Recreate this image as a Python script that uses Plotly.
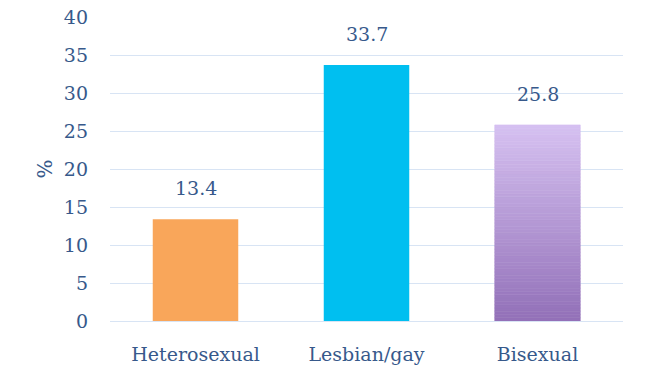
import plotly.graph_objects as go

categories = ["Heterosexual", "Lesbian/gay", "Bisexual"]
values = [13.4, 33.7, 25.8]
labels = ["13.4", "33.7", "25.8"]
colors = ["#F9A65A", "#00BFF0", None]

# gradient for Bisexual bar (top light lavender -> bottom purple)
top_rgb = (214, 193, 241)
bot_rgb = (146, 112, 184)
n_steps = 60

FONT = "DejaVu Serif"
TXT = "#37598B"
GRID = "#D8E4F4"

fig = go.Figure()

fig.add_trace(go.Bar(
    x=categories[:2], y=values[:2],
    marker=dict(color=colors[:2], line=dict(width=0)),
    width=0.5, hoverinfo="x+y", showlegend=False,
))

v = values[2]
bases = [v * i / n_steps for i in range(n_steps)]
heights = [v / n_steps] * n_steps
seg_colors = []
for i in range(n_steps):
    t = (i + 0.5) / n_steps
    c = tuple(round(b + (tp - b) * t) for b, tp in zip(bot_rgb, top_rgb))
    seg_colors.append("rgb(%d,%d,%d)" % c)
fig.add_trace(go.Bar(
    x=[categories[2]] * n_steps, y=heights, base=bases,
    marker=dict(color=seg_colors, line=dict(width=0.6, color=seg_colors)),
    width=0.5, hoverinfo="skip", showlegend=False,
))

for c, val, lab in zip(categories, values, labels):
    fig.add_annotation(x=c, y=val, text=lab, showarrow=False, yshift=31,
                       font=dict(family=FONT, size=19, color=TXT))

fig.update_layout(
    width=654, height=372,
    margin=dict(l=110, r=31, t=17, b=51, autoexpand=False),
    plot_bgcolor="white", paper_bgcolor="white",
    barmode="overlay", bargap=0.5,
    font=dict(family=FONT, size=19, color=TXT),
)
fig.update_yaxes(
    range=[0, 40], dtick=5, showgrid=True, gridcolor=GRID, gridwidth=1,
    zeroline=True, zerolinecolor=GRID, zerolinewidth=1,
    showline=False, ticks="", ticklabelstandoff=21, automargin=False,
    tickfont=dict(family=FONT, size=19, color=TXT),
    title=dict(text="%", standoff=5,
               font=dict(family=FONT, size=20, color=TXT)),
)
fig.update_xaxes(
    showgrid=False, showline=False, ticks="", ticklabelstandoff=20, automargin=False,
    tickfont=dict(family=FONT, size=19, color=TXT),
)

fig.write_html("out.html", config={"displayModeBar": False},
               post_script="document.body.style.margin='0';")
